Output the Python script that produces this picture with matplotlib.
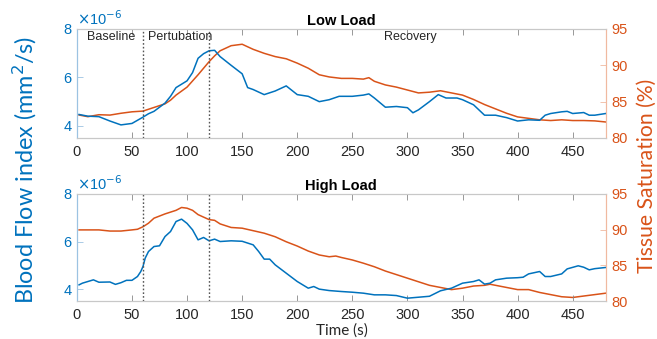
import numpy as np
import matplotlib
matplotlib.use("Agg")
import matplotlib.pyplot as plt

# ---------------- data ----------------
# Low load: blood flow index (x1e-6 mm^2/s)
t_bfi_low = [2, 10, 20, 30, 40, 50, 55, 60, 65, 70, 80, 85, 90, 100, 105, 110, 115, 120, 125, 130,
             140, 150, 155, 160, 170, 180, 190, 200, 210, 220, 229, 238, 250, 260, 265, 270, 280, 290,
             300, 305, 310, 320, 328, 335, 345, 350, 360, 370, 380, 390, 400, 410, 420, 425, 430,
             440, 445, 450, 460, 465, 470, 480]
bfi_low = [4.47, 4.40, 4.38, 4.20, 4.04, 4.10, 4.23, 4.36, 4.50, 4.60, 4.94, 5.22, 5.58, 5.86, 6.20,
           6.79, 6.98, 7.10, 7.12, 6.86, 6.50, 6.15, 5.58, 5.50, 5.29, 5.44, 5.65, 5.29, 5.22, 5.00,
           5.08, 5.22, 5.22, 5.27, 5.32, 5.15, 4.77, 4.80, 4.75, 4.54, 4.66, 5.00, 5.29, 5.15, 5.15,
           5.08, 4.87, 4.44, 4.44, 4.34, 4.20, 4.25, 4.23, 4.44, 4.51, 4.58, 4.60, 4.51, 4.55, 4.44,
           4.44, 4.51]
# Low load: tissue saturation (%)
t_sat_low = [2, 10, 20, 30, 40, 50, 60, 70, 80, 85, 90, 100, 110, 120, 125, 130, 140, 150, 160, 170,
             180, 190, 200, 210, 220, 229, 240, 250, 260, 265, 270, 280, 290, 300, 310, 320, 330, 340,
             350, 360, 370, 380, 390, 400, 410, 420, 430, 440, 450, 460, 470, 480]
sat_low = [83.16, 82.93, 83.20, 83.15, 83.40, 83.60, 83.70, 84.20, 84.70, 85.20, 85.90, 87.00, 88.70,
           90.50, 91.30, 92.00, 92.70, 92.90, 92.20, 91.65, 91.20, 90.90, 90.30, 89.60, 88.70, 88.40,
           88.20, 88.20, 88.10, 88.30, 87.80, 87.30, 87.00, 86.60, 86.20, 86.30, 86.50, 86.20, 85.90,
           85.30, 84.60, 84.00, 83.40, 82.90, 82.70, 82.50, 82.40, 82.50, 82.40, 82.40, 82.35, 82.20]

# High load: blood flow index (x1e-6 mm^2/s)
t_bfi_high = [2, 5, 10, 15, 20, 30, 35, 40, 45, 50, 55, 58, 60, 62, 65, 70, 75, 80, 85, 90, 95, 100,
              105, 110, 115, 120, 125, 130, 140, 150, 160, 165, 170, 175, 180, 190, 200, 210, 215, 220,
              229, 240, 250, 260, 270, 280, 290, 300, 310, 320, 330, 340, 350, 360, 365, 370, 375, 380,
              390, 400, 405, 410, 420, 425, 430, 440, 445, 455, 460, 465, 470, 480]
bfi_high = [4.18, 4.25, 4.32, 4.39, 4.29, 4.30, 4.20, 4.27, 4.37, 4.37, 4.53, 4.74, 4.95, 5.30, 5.58,
            5.79, 5.82, 6.21, 6.42, 6.84, 6.94, 6.76, 6.49, 6.07, 6.17, 6.03, 6.10, 6.00, 6.03, 6.01,
            5.86, 5.58, 5.26, 5.26, 5.02, 4.67, 4.32, 4.04, 4.11, 4.00, 3.94, 3.90, 3.87, 3.83, 3.76,
            3.76, 3.73, 3.62, 3.66, 3.70, 3.93, 4.04, 4.25, 4.32, 4.39, 4.21, 4.25, 4.39, 4.46, 4.48,
            4.50, 4.64, 4.74, 4.53, 4.53, 4.64, 4.85, 4.98, 4.92, 4.81, 4.86, 4.91]
# High load: tissue saturation (%)
t_sat_high = [2, 10, 20, 30, 40, 50, 55, 60, 65, 70, 80, 90, 95, 100, 105, 110, 120, 125, 130, 140,
              150, 160, 170, 180, 190, 200, 210, 220, 229, 235, 240, 250, 260, 270, 280, 290, 300, 310,
              320, 330, 340, 350, 360, 370, 375, 380, 390, 400, 410, 420, 430, 440, 450, 460, 470, 480]
sat_high = [89.96, 89.96, 89.96, 89.80, 89.80, 89.96, 90.05, 90.40, 90.90, 91.60, 92.20, 92.70, 93.10,
            93.00, 92.70, 92.10, 91.40, 91.30, 90.80, 90.30, 90.20, 89.85, 89.50, 89.00, 88.30, 87.70,
            87.00, 86.45, 86.20, 86.30, 86.10, 85.75, 85.30, 84.80, 84.20, 83.70, 83.20, 82.70, 82.20,
            81.90, 81.60, 81.80, 82.10, 82.20, 82.35, 82.20, 81.90, 81.60, 81.60, 81.20, 80.90, 80.60,
            80.50, 80.70, 80.90, 81.10]

x_ticks = [0, 50, 100, 150, 200, 250, 300, 350, 400, 450]
bfi_ticks = [4, 6, 8]
sat_ticks = [80, 85, 90, 95]
phase_bounds = [60, 120]
phase_labels = ["Baseline", "Pertubation", "Recovery"]
phase_label_x = [31, 94, 303]
titles = ["Low Load", "High Load"]

# ---------------- style ----------------
BLUE = "#0072BD"
ORANGE = "#D95319"
TICKFONT = "Liberation Sans"
LABELFONT = "Lato"

fig = plt.figure(figsize=(6.57, 3.39), dpi=100)
left, right = 0.117, 0.922
axes_rects = [(left, 0.593, right - left, 0.9145 - 0.593),
              (left, 0.112, right - left, 0.428 - 0.112)]
datasets = [(t_bfi_low, bfi_low, t_sat_low, sat_low),
            (t_bfi_high, bfi_high, t_sat_high, sat_high)]

for i, (rect, (tb, b, ts, s)) in enumerate(zip(axes_rects, datasets)):
    ax = fig.add_axes(rect)
    ax2 = ax.twinx()
    ax.set_zorder(ax2.get_zorder() + 1)
    ax.patch.set_visible(False)

    ax2.plot(ts, s, color=ORANGE, lw=1.1)
    ax.plot(tb, b, color=BLUE, lw=1.1)
    for xb in phase_bounds:
        ax.axvline(xb, color="#555555", ls=(0, (1.2, 1.5)), lw=1.0)

    ax.set_xlim(0, 480)
    ax.set_ylim(3.5, 8.0)
    ax2.set_ylim(80, 95)
    ax.set_xticks(x_ticks)
    ax.set_yticks(bfi_ticks)
    ax2.set_yticks(sat_ticks)

    for a in (ax, ax2):
        a.tick_params(direction="in", length=4, width=0.6, colors="#888888")
    ax.tick_params(axis="x", top=True, labelcolor="#262626", labelsize=10.5, pad=5)
    ax.tick_params(axis="y", labelcolor=BLUE, color="#9cc3e2", labelsize=10.5, pad=4)
    ax2.tick_params(axis="y", labelcolor=ORANGE, color="#f0b9a0", labelsize=10.5, pad=4)
    for lab in ax.get_xticklabels() + ax.get_yticklabels() + ax2.get_yticklabels():
        lab.set_fontfamily(TICKFONT)

    for a in (ax, ax2):
        a.spines["top"].set_color("#c8c8c8")
        a.spines["bottom"].set_color("#c8c8c8")
        a.spines["left"].set_color("#9cc3e2")
        a.spines["right"].set_color("#f0b9a0")
        for sp in a.spines.values():
            sp.set_linewidth(0.8)

    ax.set_title(titles[i], fontsize=10.5, fontweight="bold", family=TICKFONT, pad=3)
    ax.text(0.0, 1.01, r"$\times$10$^{-6}$", transform=ax.transAxes, color=BLUE,
            fontsize=10.5, family=TICKFONT, ha="left", va="bottom")

    if i == 0:
        for lx, lt in zip(phase_label_x, phase_labels):
            ax.text(lx, 7.65, lt, fontsize=9, family=TICKFONT, ha="center", va="center",
                    color="#262626")

fig.text(0.038, 0.498, "Blood Flow index (mm$^2$/s)", rotation=90, color=BLUE,
         fontsize=16.8, family=LABELFONT, ha="center", va="center")
fig.text(0.984, 0.481, "Tissue Saturation (%)", rotation=90, color=ORANGE,
         fontsize=15.2, family=LABELFONT, ha="center", va="center")
fig.text(0.52, 0.025, "Time (s)", color="#262626", fontsize=11, family=LABELFONT,
         ha="center", va="center")

fig.savefig("out.png", dpi=100)
